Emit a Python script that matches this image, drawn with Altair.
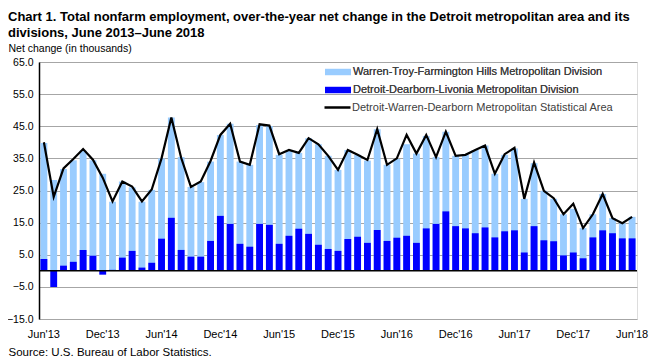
import altair as alt
import pandas as pd

# ---- data ----
month_names = ["Jan", "Feb", "Mar", "Apr", "May", "Jun", "Jul", "Aug", "Sep", "Oct", "Nov", "Dec"]
months = []
for k in range(61):
    mi = (5 + k) % 12
    yr = 13 + (5 + k) // 12
    months.append(f"{month_names[mi]}'{yr}")

tick_labels = ["Jun'13", "Dec'13", "Jun'14", "Dec'14", "Jun'15", "Dec'15",
               "Jun'16", "Dec'16", "Jun'17", "Dec'17", "Jun'18"]

warren = [39.8, 28.3, 31.7, 34.4, 37.4, 34.4, 30.2, 21.5, 27.8, 26.0, 21.5, 25.2,
          35.0, 47.7, 35.4, 26.1, 27.6, 34.0, 42.3, 45.8, 34.0, 33.0, 45.4, 45.1,
          36.1, 37.4, 36.7, 41.3, 39.4, 35.8, 31.4, 37.6, 36.1, 34.3, 44.1, 33.0,
          34.8, 39.4, 36.5, 42.0, 35.4, 43.3, 35.8, 36.1, 37.6, 39.0, 30.2, 36.1,
          38.1, 22.4, 33.5, 24.9, 22.4, 17.6, 19.3, 13.3, 17.6, 23.9, 16.4, 14.8,
          16.8]

detroit = [3.7, -5.0, 1.6, 2.8, 6.5, 4.7, -1.2, 0.3, 4.1, 6.2, 1.0, 2.5,
           10.0, 16.5, 6.5, 4.4, 4.4, 9.3, 17.1, 14.6, 8.4, 7.5, 14.6, 14.3,
           8.4, 10.9, 13.1, 11.5, 8.1, 6.8, 6.2, 9.9, 10.6, 8.7, 12.7, 9.3,
           10.3, 10.9, 8.7, 13.2, 14.6, 18.5, 13.9, 13.2, 11.7, 13.5, 10.4, 12.3,
           12.6, 5.7, 13.9, 9.5, 9.2, 4.8, 5.7, 3.9, 10.4, 12.6, 11.7, 10.1,
           10.1]

msa = [40.0, 23.0, 31.9, 34.8, 37.9, 34.6, 29.0, 21.6, 27.8, 26.2, 21.6, 25.3,
       35.0, 47.7, 35.2, 26.1, 27.8, 34.2, 42.3, 45.8, 34.0, 33.0, 45.6, 45.2,
       36.3, 37.6, 36.7, 41.3, 39.4, 35.8, 31.4, 37.6, 36.1, 34.5, 44.1, 33.0,
       35.0, 42.3, 36.5, 42.3, 35.4, 43.3, 35.8, 36.1, 37.6, 39.0, 30.2, 36.3,
       38.3, 22.4, 33.7, 24.9, 22.6, 17.6, 20.9, 13.3, 17.6, 23.9, 16.4, 14.8,
       16.8]

y_ticks = [-15, -5, 5, 15, 25, 35, 45, 55, 65]

W_NAME = "Warren-Troy-Farmington Hills Metropolitan Division"
D_NAME = "Detroit-Dearborn-Livonia Metropolitan Division"
M_NAME = "Detroit-Warren-Dearborn Metropolitan Statistical Area"

bars = pd.DataFrame({
    "month": months * 2,
    "series": [W_NAME] * 61 + [D_NAME] * 61,
    "value": warren + detroit,
})
line_df = pd.DataFrame({"month": months, "series": [M_NAME] * 61, "value": msa})
zero_df = pd.DataFrame({"value": [0]})

FONT = "Liberation Sans, Arial, sans-serif"

x_axis = alt.Axis(
    values=tick_labels, labelAngle=0, domain=False, ticks=False, grid=False,
    labelFont=FONT, labelFontSize=11, labelColor="#000000", labelPadding=9,
    labelOverlap=False,
    title="Source: U.S. Bureau of Labor Statistics.",
    titleFont=FONT, titleFontSize=11.5, titleFontWeight="normal",
    titleColor="#000000", titleAnchor="start", titleAlign="left",
    titleX=-31, titleY=36, titleBaseline="alphabetic",
)
x_scale = alt.Scale(paddingInner=0.3, paddingOuter=0.15)

def x_enc():
    return alt.X("month:N", sort=months, scale=x_scale, axis=x_axis)

y_scale = alt.Scale(domain=[-15, 65], nice=False, zero=False)
y_axis = alt.Axis(
    values=y_ticks, format=".1f", labelOverlap=False,
    domain=True, domainColor="#000000", domainWidth=1.5,
    ticks=False, grid=True, gridColor="#a6a6a6", gridWidth=1,
    labelFont=FONT, labelFontSize=10.5, labelColor="#000000", labelPadding=6,
    title="Net change (in thousands)", titleAngle=0, titleFont=FONT,
    titleFontSize=10.5, titleFontWeight="normal", titleColor="#000000",
    titleAlign="left", titleBaseline="alphabetic", titleX=-31, titleY=-11,
)

def y_enc():
    return alt.Y("value:Q", scale=y_scale, axis=y_axis)

color_scale = alt.Scale(domain=[W_NAME, D_NAME], range=["#99ccff", "#0000ff"])
bar_legend = alt.Legend(
    title=None, orient="none", legendX=286, legendY=-3, direction="vertical",
    symbolType="M-1,-0.24H1V0.24H-1Z", symbolSize=676, symbolStrokeWidth=0,
    labelFont=FONT, labelFontSize=11, labelColor="#404040", labelOffset=2,
    labelLimit=0, rowPadding=0, padding=0,
)

base = alt.Chart(bars)

light = base.transform_filter(alt.datum.series == W_NAME).mark_bar().encode(
    x=x_enc(), y=y_enc(),
    color=alt.Color("series:N", scale=color_scale, legend=bar_legend),
)

dark = base.transform_filter(alt.datum.series == D_NAME).mark_bar().encode(
    x=x_enc(), y=y_enc(),
    color=alt.Color("series:N", scale=color_scale, legend=bar_legend),
)

zero = alt.Chart(zero_df).mark_rule(color="#000000", strokeWidth=1.5).encode(
    y=y_enc()
)

line = alt.Chart(line_df).mark_line(strokeWidth=2.2, color="#000000").encode(
    x=x_enc(), y=y_enc(),
    stroke=alt.Stroke(
        "series:N", scale=alt.Scale(domain=[M_NAME], range=["#000000"]),
        legend=alt.Legend(
            title=None, orient="none", legendX=284, legendY=31,
            symbolType="stroke", symbolSize=676, symbolStrokeWidth=2.5,
            labelFont=FONT, labelFontSize=11, labelColor="#404040", labelOffset=0,
            labelLimit=0, padding=0,
        ),
    ),
)

chart = alt.layer(light, dark, zero, line).resolve_scale(color="independent", stroke="independent").properties(
    width=598, height=257,
    autosize=alt.AutoSizeParams(type="none"),
    padding={"left": 31, "top": 54, "right": 12, "bottom": 42},
    title=alt.TitleParams(
        text=["Chart 1. Total nonfarm employment, over-the-year net change in the Detroit metropolitan area and its",
              "divisions,  June 2013\u2013June  2018"],
        anchor="start", frame="group", dx=-31, offset=3,
        font=FONT, fontSize=13, fontWeight="bold", color="#000000", lineHeight=16,
    ),
).configure_view(stroke="#a6a6a6", strokeWidth=1).configure(background="white")

chart.save("out.html", embed_options={"renderer": "svg", "actions": False})
